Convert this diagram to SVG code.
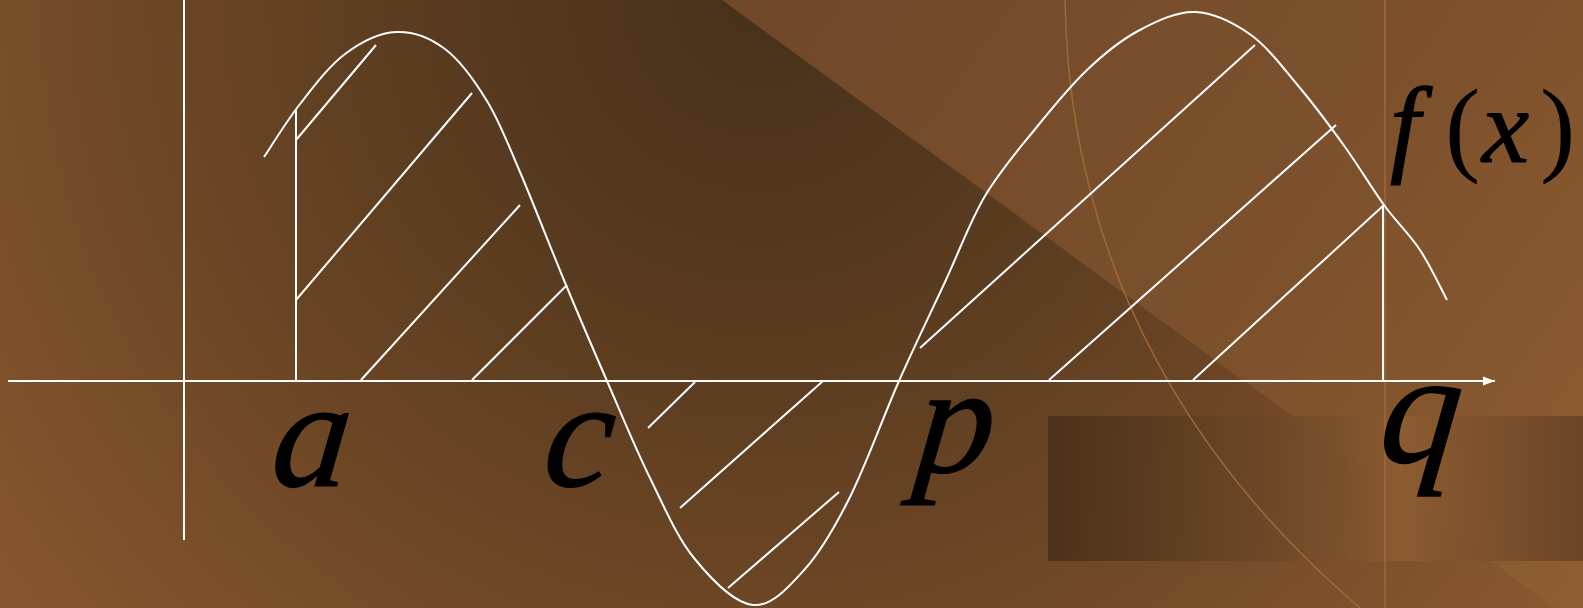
<svg xmlns="http://www.w3.org/2000/svg" width="1583" height="608" viewBox="0 0 1583 608">
<defs>
<radialGradient id="bgL" gradientUnits="userSpaceOnUse" cx="760" cy="0" r="1000">
<stop offset="0" stop-color="#47301a"/>
<stop offset="0.35" stop-color="#5a3c20"/>
<stop offset="0.6" stop-color="#6c4625"/>
<stop offset="0.8" stop-color="#7b4f2a"/>
<stop offset="1" stop-color="#8a5830"/>
</radialGradient>
<linearGradient id="bgR" gradientUnits="userSpaceOnUse" x1="722" y1="0" x2="1583" y2="608">
<stop offset="0" stop-color="#70482a"/>
<stop offset="0.6" stop-color="#7d512c"/>
<stop offset="1" stop-color="#8f5e32"/>
</linearGradient>
<linearGradient id="band" gradientUnits="userSpaceOnUse" x1="1048" y1="0" x2="1583" y2="0">
<stop offset="0" stop-color="#482f19"/>
<stop offset="0.2" stop-color="#583b20"/>
<stop offset="0.55" stop-color="#7a502b"/>
<stop offset="0.66" stop-color="#8d5c31"/>
<stop offset="1" stop-color="#684326"/>
</linearGradient>
<marker id="arr" markerWidth="12" markerHeight="10" refX="12" refY="5" orient="auto" markerUnits="userSpaceOnUse">
<path d="M0,0.5 L12,5 L0,9.5 z" fill="#ffffff"/>
</marker>
<style>
.w{stroke:#ffffff;fill:none;stroke-width:2}
.o{stroke:#a06a38;fill:none;stroke-width:1.5}
.lbl{font-family:"Liberation Serif","Times New Roman",serif;font-style:italic;fill:#000000;stroke:#000000;stroke-width:1.2}
.up{font-family:"Liberation Serif","Times New Roman",serif;font-style:normal;fill:#000000}
</style>
</defs>
<g id="background">
<rect x="0" y="0" width="1583" height="608" fill="url(#bgL)"/>
<polygon points="722,0 1583,0 1583,608 1555,608" fill="url(#bgR)"/>
<rect x="1048" y="416" width="535" height="145" fill="url(#band)" opacity="0.9"/>
<path class="o" d="M1065,0 C1068,200 1140,420 1360,608"/>
<line class="o" x1="1385" y1="0" x2="1385" y2="608"/>
</g>
<g id="connectors">
<line class="w" x1="184" y1="0" x2="184" y2="540"/>
<line class="w" x1="8" y1="381" x2="1495" y2="381" stroke-width="2.5" marker-end="url(#arr)"/>
<line class="w" x1="296" y1="381" x2="296" y2="110"/>
<line class="w" x1="1383" y1="381" x2="1383" y2="205"/>
<line class="w" x1="296" y1="140" x2="376" y2="45"/>
<line class="w" x1="296" y1="300" x2="472" y2="93"/>
<line class="w" x1="361" y1="380" x2="520" y2="205"/>
<line class="w" x1="472" y1="380" x2="567" y2="285"/>
<line class="w" x1="648" y1="428" x2="695" y2="382"/>
<line class="w" x1="680" y1="508" x2="823" y2="381"/>
<line class="w" x1="728" y1="588" x2="839" y2="492"/>
<line class="w" x1="920" y1="348" x2="1255" y2="45"/>
<line class="w" x1="1049" y1="380" x2="1336" y2="125"/>
<line class="w" x1="1193" y1="380" x2="1384" y2="205"/>
</g>
<g id="curve">
<path class="w" d="M264,157 C270,148.2 286.5,121.2 300,104 C313.5,86.8 329,66 345,54 C361,42 379.3,32.8 396,32 C412.7,31.2 429.8,37.5 445,49 C460.2,60.5 474.5,80.5 487,101 C499.5,121.5 506.8,141.3 520,172 C533.2,202.7 551.5,250.2 566,285 C580.5,319.8 593,348.8 607,381 C621,413.2 635.5,448.5 650,478 C664.5,507.5 676.8,536.8 694,558 C711.2,579.2 734.5,603.2 753,605 C771.5,606.8 788.8,587 805,569 C821.2,551 834.3,528.3 850,497 C865.7,465.7 883.2,416.8 899,381 C914.8,345.2 930.7,312.8 945,282 C959.3,251.2 969.8,221.7 985,196 C1000.2,170.3 1019,149 1036,128 C1053,107 1070,86.2 1087,70 C1104,53.8 1120,40.7 1138,31 C1156,21.3 1176.2,11.3 1195,12 C1213.8,12.7 1233.5,22.5 1251,35 C1268.5,47.7 1284.3,69.3 1300,88 C1315.7,106.7 1331,127.5 1345,147 C1359,166.5 1371.5,187.8 1384,205 C1396.5,222.2 1409.5,234.2 1420,250 C1430.5,265.8 1442.5,291.7 1447,300"/>
</g>
<g id="label-fx">
<text class="lbl" x="1390" y="162" font-size="108" stroke-width="0.6">f</text>
<text class="up" x="1445" y="162" font-size="106">(</text>
<text class="lbl" x="1482" y="162" font-size="106" stroke-width="0.6">x</text>
<text class="up" x="1540" y="162" font-size="106">)</text>
</g>
<g id="label-a"><text class="lbl" transform="translate(269,486) skewX(-6)" font-size="155">a</text></g>
<g id="label-c"><text class="lbl" transform="translate(541,486) skewX(-6)" font-size="155">c</text></g>
<g id="label-p"><text class="lbl" transform="translate(913,472) skewX(-6)" font-size="155">p</text></g>
<g id="label-q"><text class="lbl" transform="translate(1377,462) skewX(-6)" font-size="160">q</text></g>
</svg>
